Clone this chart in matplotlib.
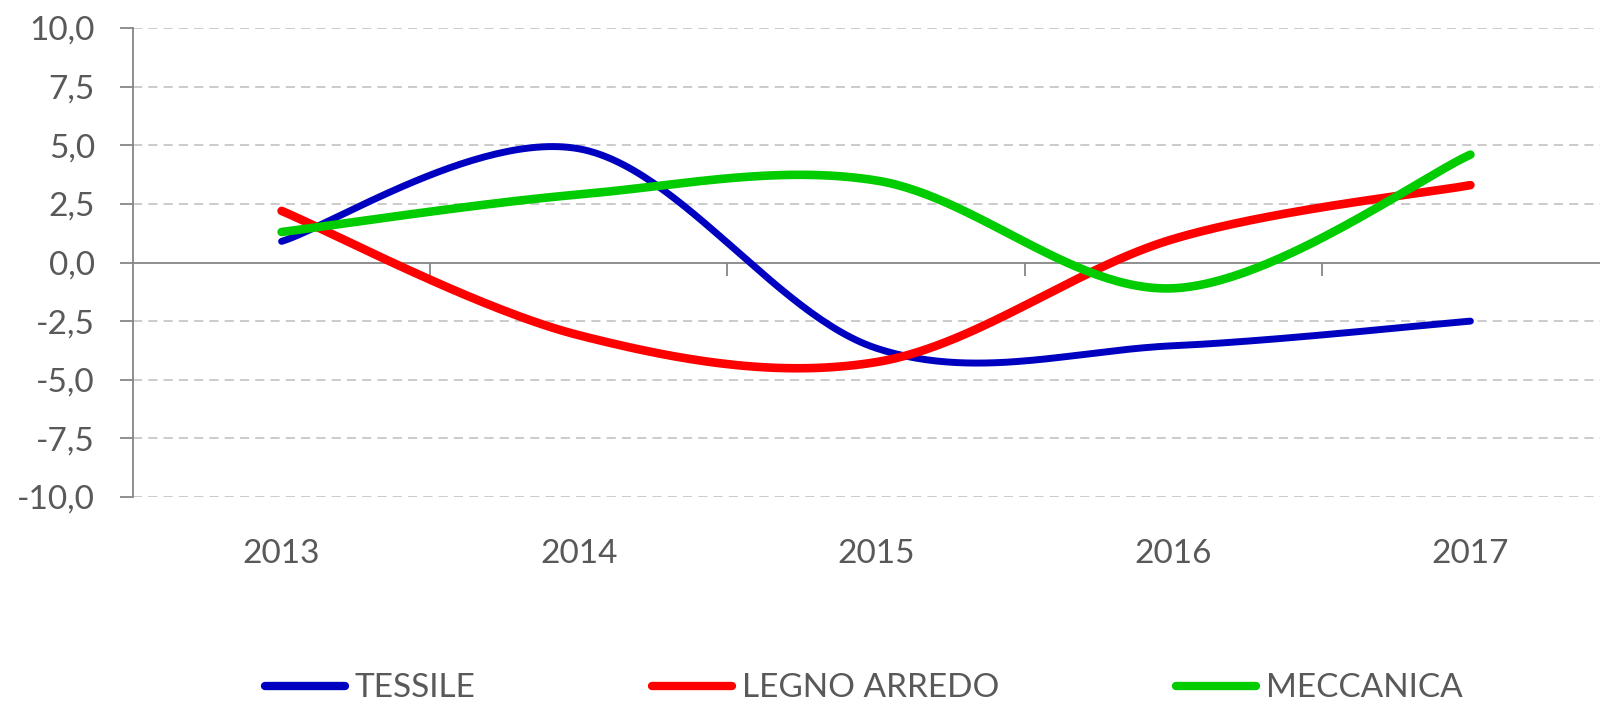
import numpy as np
import matplotlib.pyplot as plt
from matplotlib.transforms import blended_transform_factory

plt.rcParams['font.family'] = ['Lato', 'DejaVu Sans']

years = ['2013', '2014', '2015', '2016', '2017']
tessile = [0.9, 4.85, -3.65, -3.55, -2.5]
legno = [2.2, -3.1, -4.25, 1.0, 3.3]
meccanica = [1.3, 2.9, 3.5, -1.1, 4.6]
y_ticks = [-10, -7.5, -5, -2.5, 0, 2.5, 5, 7.5, 10]

text_col = '#595959'
axis_col = '#868686'


def smooth(ys, n=60):
    # excel-like smoothed line (bezier through the points)
    x = np.arange(len(ys), dtype=float)
    y = np.asarray(ys, dtype=float)
    P = np.column_stack([x, y])
    Pp = np.vstack([P[0], P, P[-1]])
    out = []
    for i in range(len(P) - 1):
        p0, p3 = Pp[i + 1], Pp[i + 2]
        c1 = p0 + (Pp[i + 2] - Pp[i]) / 6
        c2 = p3 - (Pp[i + 3] - Pp[i + 1]) / 6
        t = np.linspace(0, 1, n)[:, None]
        seg = ((1 - t) ** 3 * p0 + 3 * (1 - t) ** 2 * t * c1
               + 3 * (1 - t) * t ** 2 * c2 + t ** 3 * p3)
        out.append(seg if i == 0 else seg[1:])
    out = np.vstack(out)
    return out[:, 0], out[:, 1]


fig = plt.figure(figsize=(16, 7.08), dpi=100)
ax = fig.add_axes([133 / 1600, 1 - 497 / 708, 1486 / 1600, 469 / 708])

series = [
    ('TESSILE', tessile, '#0000C0', 5.0),
    ('LEGNO ARREDO', legno, '#FF0000', 6.2),
    ('MECCANICA', meccanica, '#00CC00', 6.2),
]
for name, vals, col, lw in series:
    sx, sy = smooth(vals)
    ax.plot(sx, sy, color=col, lw=lw, label=name, solid_capstyle='round', zorder=3)

ax.set_xlim(-0.5, len(years) - 0.5)
ax.set_ylim(-10, 10)

# grid
for v in y_ticks:
    if v != 0:
        ax.axhline(v, color='#BDBDBD', lw=1.1, dashes=(6, 4), zorder=1)

ax.spines['top'].set_visible(False)
ax.spines['right'].set_visible(False)
ax.spines['left'].set_color(axis_col)
ax.spines['left'].set_linewidth(1.3)
ax.spines['bottom'].set_position(('data', 0))
ax.spines['bottom'].set_color(axis_col)
ax.spines['bottom'].set_linewidth(1.3)

ax.set_yticks(y_ticks)
ax.set_yticklabels([f'{v:.1f}'.replace('.', ',') for v in y_ticks])
ax.tick_params(axis='y', length=9.5, width=1.3, color=axis_col, pad=18,
               labelsize=24, labelcolor=text_col)

ax.set_xticks(np.arange(len(years) - 1) + 0.5)
ax.set_xticklabels([])
ax.tick_params(axis='x', length=9.5, width=1.3, color=axis_col, direction='out')

trans = blended_transform_factory(ax.transData, ax.transAxes)
for i, yr in enumerate(years):
    ax.text(i, -0.122, yr, transform=trans, ha='center', va='center',
            fontsize=24, color=text_col)

leg = fig.legend(loc='center', bbox_to_anchor=(0.54, 0.028), ncols=3,
                 frameon=False, fontsize=24, handlelength=2.4,
                 handletextpad=0.3, columnspacing=5.3, labelcolor=text_col)
for h in leg.get_lines():
    h.set_linewidth(6)

fig.savefig('out.png', dpi=100)
